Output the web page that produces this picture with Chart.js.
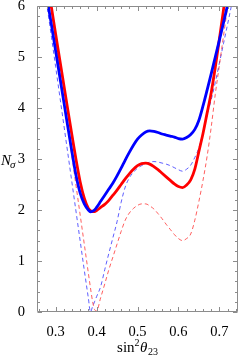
<!DOCTYPE html>
<html>
<head>
<meta charset="utf-8">
<script src="https://cdn.jsdelivr.net/npm/chart.js@4/dist/chart.umd.min.js"></script>
<style>
html,body{margin:0;padding:0;background:#fff;}
#wrap{position:relative;width:240px;height:355px;}
</style>
</head>
<body>
<div id="wrap"><canvas id="c" width="240" height="355"></canvas></div>
<script>
// sin^2(theta23) grid
const sin2theta23 = [0.27,0.28,0.29,0.30,0.31,0.32,0.33,0.34,0.35,0.36,0.37,0.38,0.385,0.39,0.395,0.40,
  0.41,0.42,0.43,0.44,0.45,0.46,0.47,0.48,0.49,0.50,0.51,0.52,0.53,0.54,0.55,0.56,0.57,0.58,0.59,0.60,
  0.61,0.62,0.63,0.64,0.65,0.66,0.67,0.68,0.69,0.70,0.71,0.72,0.73,0.74];
// N_sigma, blue solid
const blueSolid = [null,6.10,5.62,5.12,4.62,4.12,3.62,3.13,2.67,2.33,2.12,2.00,1.965,1.975,2.00,2.05,
  2.17,2.29,2.41,2.53,2.67,2.82,2.98,3.13,3.27,3.39,3.47,3.53,3.55,3.54,3.52,3.49,3.47,3.45,3.43,3.40,
  3.39,3.42,3.48,3.58,3.76,4.04,4.35,4.67,5.00,5.33,5.67,6.02,6.40,null];
// N_sigma, red solid
const redSolid = [null,6.45,5.96,5.45,4.95,4.45,3.95,3.46,2.98,2.55,2.23,2.03,1.99,1.97,1.97,1.99,
  2.05,2.11,2.19,2.29,2.39,2.50,2.61,2.71,2.80,2.87,2.91,2.92,2.90,2.85,2.79,2.72,2.65,2.58,2.51,2.46,
  2.44,2.49,2.59,2.80,3.15,3.50,3.90,4.30,4.80,5.35,5.92,6.50,null,null];
// N_sigma, blue dashed
const blueDashed = [6.50,5.95,5.38,4.81,4.24,3.67,3.10,2.53,1.96,1.39,0.82,0.27,0.00,0.10,0.20,0.30,
  0.50,0.83,1.15,1.46,1.77,2.15,2.45,2.63,2.74,2.82,2.87,2.91,2.94,2.95,2.94,2.92,2.90,2.87,2.83,2.79,
  2.76,2.80,2.88,3.03,3.22,3.52,3.86,4.16,4.50,4.88,5.26,5.64,6.03,6.45];
// N_sigma, red dashed
const redDashed = [null,6.45,5.89,5.32,4.75,4.18,3.61,3.04,2.47,1.90,1.33,0.76,0.48,0.22,0.05,0.02,
  0.28,0.55,0.83,1.08,1.33,1.58,1.80,1.94,2.03,2.09,2.12,2.12,2.08,2.02,1.93,1.83,1.72,1.62,1.52,1.44,
  1.40,1.44,1.53,1.80,2.17,2.58,3.05,3.62,4.27,4.84,5.41,5.98,6.55,null];

const xMajorTicks = [0.3,0.4,0.5,0.6,0.7];
const yMajorTicks = [0,1,2,3,4,5,6];
const xTitleParts = ['sin','2','θ','23'];
const yTitleParts = ['N','σ'];

const SERIF = '"Liberation Serif","DejaVu Serif",serif';

function pts(ys){ return sin2theta23.map((x,i)=>({x:x,y:ys[i]})); }

const frameTicks = {
  id:'frameTicks',
  afterDraw(chart){
    const ctx = chart.ctx, a = chart.chartArea, xs = chart.scales.x, ys = chart.scales.y;
    ctx.save();
    ctx.strokeStyle = '#8c8c8c';
    ctx.lineWidth = 1;
    ctx.beginPath();
    const L = Math.round(a.left)+0.5, R = Math.round(a.right)-0.5, T = Math.round(a.top)+0.5, B = Math.round(a.bottom)-0.5;
    ctx.rect(L, T, R-L, B-T);
    ctx.stroke();
    ctx.beginPath();
    for (let k=13;k<=37;k++){
      const v = k*0.02; const px = Math.round(xs.getPixelForValue(v))+0.5;
      if (px < a.left || px > a.right) continue;
      const len = (k%5===0)?4.5:2.5;
      ctx.moveTo(px,B); ctx.lineTo(px,B-len);
      ctx.moveTo(px,T); ctx.lineTo(px,T+len);
    }
    for (let k=0;k<=30;k++){
      const v = k*0.2; const py = Math.round(ys.getPixelForValue(v))+0.5;
      const len = (k%5===0)?4.5:2.5;
      ctx.moveTo(L,py); ctx.lineTo(L+len,py);
      ctx.moveTo(R,py); ctx.lineTo(R-len,py);
    }
    ctx.stroke();
    // axis titles
    ctx.fillStyle = '#000';
    ctx.textBaseline = 'alphabetic';
    ctx.textAlign = 'left';
    // y title N_sigma
    ctx.font = 'italic 15px ' + SERIF;
    ctx.fillText(yTitleParts[0], 1, 165);
    const nW = ctx.measureText(yTitleParts[0]).width;
    ctx.font = 'italic 11px ' + SERIF;
    ctx.fillText(yTitleParts[1], 1+nW-1, 168);
    // x title sin^2 theta_23
    const f1 = '15px '+SERIF, f2 = '10px '+SERIF, f3 = 'italic 15px '+SERIF;
    ctx.font = f1; const w1 = ctx.measureText(xTitleParts[0]).width;
    ctx.font = f2; const w2 = ctx.measureText(xTitleParts[1]).width;
    ctx.font = f3; const w3 = ctx.measureText(xTitleParts[2]).width;
    ctx.font = f2; const w4 = ctx.measureText(xTitleParts[3]).width;
    let x0 = (a.left+a.right)/2 - (w1+w2+w3+w4+1)/2;
    const base = 352;
    ctx.font = f1; ctx.fillText(xTitleParts[0], x0, base); x0 += w1;
    ctx.font = f2; ctx.fillText(xTitleParts[1], x0, base-6); x0 += w2+0.5;
    ctx.font = f3; ctx.fillText(xTitleParts[2], x0, base); x0 += w3+0.5;
    ctx.font = f2; ctx.fillText(xTitleParts[3], x0, base+3);
    ctx.restore();
  }
};

new Chart(document.getElementById('c'), {
  type:'line',
  data:{
    datasets:[
      {label:'red solid', data:pts(redSolid), borderColor:'#ff0000', borderWidth:2.8, order:2},
      {label:'blue solid', data:pts(blueSolid), borderColor:'#0000ff', borderWidth:2.8, order:1},
      {label:'blue dashed', data:pts(blueDashed), borderColor:'rgba(40,40,255,0.75)', borderWidth:1, borderDash:[4,3], order:4},
      {label:'red dashed', data:pts(redDashed), borderColor:'rgba(255,40,40,0.75)', borderWidth:1, borderDash:[4,3], order:3}
    ]
  },
  options:{
    responsive:false,
    devicePixelRatio:1,
    animation:false,
    spanGaps:false,
    elements:{point:{radius:0}, line:{cubicInterpolationMode:'monotone', fill:false}},
    layout:{padding:{top:6,right:2,left:0,bottom:0}},
    plugins:{legend:{display:false}, tooltip:{enabled:false}},
    scales:{
      x:{
        type:'linear', min:0.2545, max:0.7455,
        grid:{display:false}, border:{display:false},
        afterBuildTicks:s=>{ s.ticks = xMajorTicks.map(v=>({value:v})); },
        ticks:{padding:3, color:'#000', maxRotation:0, autoSkip:false,
          font:{family:SERIF, size:14.5}, callback:v=>Number(v).toFixed(1)},
        afterFit:s=>{ s.height = 43; s.paddingLeft = 0; s.paddingRight = 0; }
      },
      y:{
        type:'linear', min:0, max:6,
        grid:{display:false}, border:{display:false},
        afterBuildTicks:s=>{ s.ticks = yMajorTicks.map(v=>({value:v})); },
        ticks:{padding:4, color:'#000', font:{family:SERIF, size:14.5}, callback:v=>String(v)},
        afterFit:s=>{ s.width = 37; s.paddingTop = 0; s.paddingBottom = 0; }
      }
    }
  },
  plugins:[frameTicks]
});
</script>
</body>
</html>
